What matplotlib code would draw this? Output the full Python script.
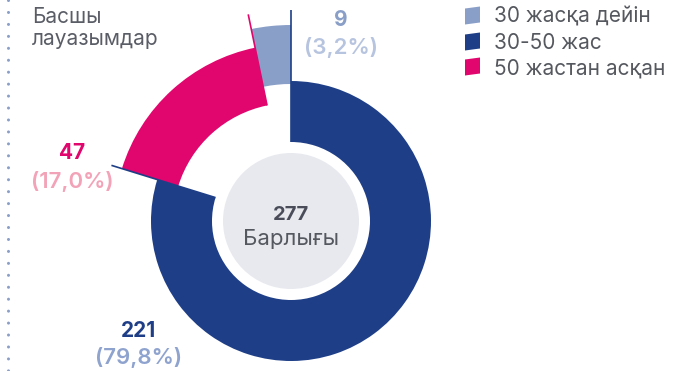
import numpy as np
import matplotlib
matplotlib.use("Agg")
import matplotlib.pyplot as plt
from matplotlib.patches import Circle, Polygon

plt.rcParams['font.family'] = ['Inter', 'DejaVu Sans']

# Data (ring order, counter-clockwise from 12 o'clock)
categories = ['30 жасқа дейін', '50 жастан асқан', '30-50 жас']
counts = [9, 47, 221]
pct_labels = ['(3,2%)', '(17,0%)', '(79,8%)']
total_label = '277'
total_caption = 'Барлығы'
title_text = 'Басшы\nлауазымдар'

colors = ['#8A9FC8', '#E0066E', '#1E3F87']
pct_colors = ['#B7C4E0', '#F2A3B8', '#8FA3CF']
num_colors = ['#8A9FC8', '#E0066E', '#1E3F87']

# legend order: under 30, 30-50, over 50
legend_order = [0, 2, 1]

W, H = 687, 371
fig = plt.figure(figsize=(W / 100, H / 100), dpi=100)
ax = fig.add_axes([0, 0, 1, 1])

cx, cy = 291, H - 221
# each ring segment sits at its own radius band (outer radius, band width)
bands = [(196, 59), (177, 59), (140, 61)]

for i, (rad, width) in enumerate(bands):
    seg_colors = [colors[j] if j == i else 'none' for j in range(len(counts))]
    ax.pie(counts, radius=rad, center=(cx, cy), startangle=90, counterclock=True,
           colors=seg_colors, wedgeprops=dict(width=width, linewidth=0, edgecolor='none'))

# boundary angles from the data
cum = np.concatenate([[0], np.cumsum(counts)])
angles = 90 + 360 * cum / cum[-1]

def radial(theta, r0, r1, color):
    t = np.deg2rad(theta)
    ax.plot([cx + r0 * np.cos(t), cx + r1 * np.cos(t)],
            [cy + r0 * np.sin(t), cy + r1 * np.sin(t)],
            color=color, lw=1.2, solid_capstyle='butt', zorder=5)

radial(angles[0], 79, 211, colors[2])
radial(angles[1], 118, 211, colors[1])
radial(angles[2], 79, 188, colors[2])

# center disc
ax.add_patch(Circle((cx, cy), 68, facecolor='#E8E9EF', edgecolor='none', zorder=4))
ax.text(cx, H - 215, total_label, ha='center', va='center', fontsize=14.5,
        fontweight='bold', color='#4A4D59', zorder=6)
ax.text(cx, H - 239, total_caption, ha='center', va='center', fontsize=16,
        color='#55585F', zorder=6)

# value labels
num_pos = [(341, 20), (72, 153), (138, 331)]
pct_pos = [(341, 47), (72, 182), (139, 358)]
for i in range(len(counts)):
    x, y = num_pos[i]
    ax.text(x, H - y, str(counts[i]), ha='center', va='center', fontsize=15,
            fontweight='bold', color=num_colors[i])
    x, y = pct_pos[i]
    ax.text(x, H - y, pct_labels[i], ha='center', va='center', fontsize=16,
            fontweight='semibold', color=pct_colors[i])

# title
ax.text(32, H - 7, title_text, ha='left', va='top', fontsize=15,
        color='#5A5D66', linespacing=1.1)

# legend
leg_rows = [16, 42, 67]
for k, i in enumerate(legend_order):
    yc = H - leg_rows[k]
    ax.add_patch(Polygon([(465, yc - 8.5), (480, yc - 6.5), (480, yc + 9.5), (465, yc + 7.5)],
                         closed=True, facecolor=colors[i], edgecolor='none'))
    ax.text(494, yc - 1, categories[i], ha='left', va='center', fontsize=15, color='#55585F')

# dotted rule on the left
ax.plot([8, 8], [H, 0], color='#8A9FC8', lw=2.2, linestyle=(0, (0.01, 3.9)),
        dash_capstyle='round')

ax.set_xlim(0, W)
ax.set_ylim(0, H)
ax.set_aspect('equal')
ax.set_position([0, 0, 1, 1])
ax.axis('off')

fig.savefig('out.png', dpi=100)
